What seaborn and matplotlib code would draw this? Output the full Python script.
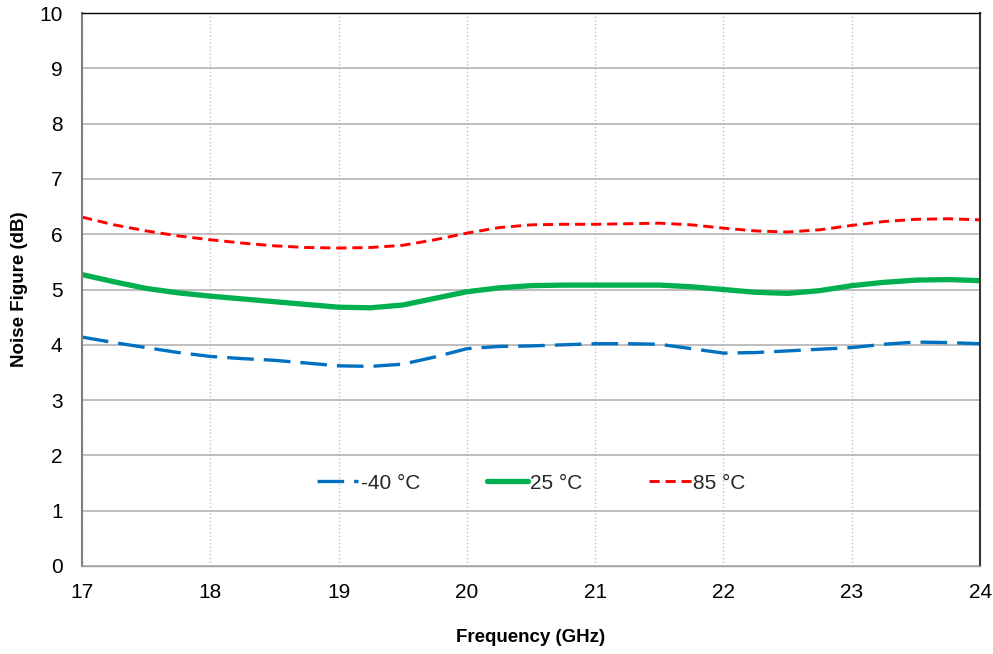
import numpy as np
import pandas as pd
import matplotlib
matplotlib.use("Agg")
import matplotlib.pyplot as plt
import seaborn as sns

freq = [17.0, 17.25, 17.5, 17.75, 18.0, 18.25, 18.5, 18.75, 19.0, 19.25,
        19.5, 19.75, 20.0, 20.25, 20.5, 20.75, 21.0, 21.25, 21.5, 21.75,
        22.0, 22.25, 22.5, 22.75, 23.0, 23.25, 23.5, 23.75, 24.0]
nf_m40 = [4.14, 4.04, 3.95, 3.86, 3.79, 3.75, 3.72, 3.67, 3.62, 3.61,
          3.65, 3.78, 3.93, 3.97, 3.98, 4.00, 4.02, 4.02, 4.01, 3.93,
          3.85, 3.86, 3.89, 3.92, 3.95, 4.01, 4.05, 4.04, 4.02]
nf_25 = [5.27, 5.14, 5.02, 4.94, 4.88, 4.83, 4.78, 4.73, 4.68, 4.67,
         4.72, 4.84, 4.96, 5.03, 5.07, 5.08, 5.08, 5.08, 5.08, 5.05,
         5.00, 4.95, 4.93, 4.98, 5.07, 5.13, 5.17, 5.18, 5.16]
nf_85 = [6.31, 6.17, 6.06, 5.97, 5.90, 5.84, 5.79, 5.76, 5.75, 5.76,
         5.80, 5.90, 6.02, 6.12, 6.17, 6.18, 6.18, 6.19, 6.20, 6.17,
         6.11, 6.06, 6.04, 6.08, 6.16, 6.23, 6.27, 6.28, 6.26]
labels = ["-40 °C", "25 °C", "85 °C"]

sns.set_theme(style="white")
plt.rcParams["font.family"] = ["Liberation Sans", "DejaVu Sans"]

fig = plt.figure(figsize=(9.93, 6.54), dpi=100)
ax = fig.add_axes([0.0826, 0.1346, 0.9044, 0.8454])

styles = [
    (nf_m40, "#0070C0", 2.4, (0, (8, 3))),
    (nf_25, "#00B050", 3.8, "-"),
    (nf_85, "#FF0000", 2.1, (0, (3.5, 2))),
]
for (vals, color, lw, ls), lab in zip(styles, labels):
    df = pd.DataFrame({"f": freq, "nf": vals})
    sns.lineplot(data=df, x="f", y="nf", ax=ax, color=color, linewidth=lw,
                 linestyle=ls, label=lab)

ax.set_xlim(17, 24)
ax.set_ylim(0, 10)
ax.set_xticks(range(17, 25))
ax.set_yticks(range(0, 11))
ax.yaxis.grid(True, color="#b3b3b3", linewidth=1.2, linestyle="-")
ax.xaxis.grid(True, color="#c0c0c0", linewidth=1.0, linestyle=":")
ax.set_axisbelow(True)
ax.tick_params(axis="both", labelsize=15, length=0, colors="black")
ax.tick_params(axis="x", pad=12)
ax.tick_params(axis="y", pad=14)

ax.spines["left"].set_color("#808080")
ax.spines["left"].set_linewidth(1.5)
ax.spines["bottom"].set_color("#a0a0a0")
ax.spines["bottom"].set_linewidth(1.0)
ax.spines["top"].set_color("black")
ax.spines["right"].set_color("#333333")
ax.spines["top"].set_linewidth(1.0)
ax.spines["right"].set_linewidth(1.5)

ax.set_xlabel("Frequency (GHz)", fontsize=13.5, fontweight="bold",
              labelpad=20, color="black")
ax.set_ylabel("Noise Figure (dB)", fontsize=13.5, fontweight="bold",
              labelpad=8, color="black")

ax.legend(loc="center", bbox_to_anchor=(0.5, 0.15), ncol=3, frameon=False,
          fontsize=15, handlelength=2.0, columnspacing=3.2, handletextpad=0.1)

fig.savefig("out.png", dpi=100)
